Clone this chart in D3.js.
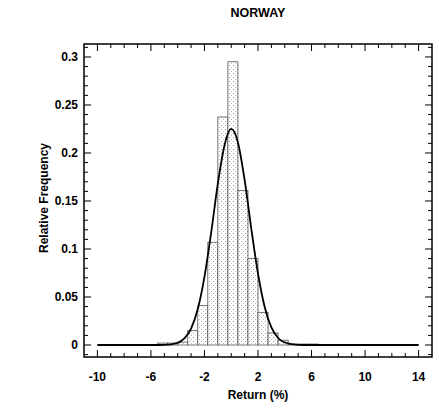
<!DOCTYPE html>
<html>
<head>
<meta charset="utf-8">
<script src="https://cdn.jsdelivr.net/npm/d3@7"></script>
<style>
  body { margin: 0; background: #fff; }
  text { font-family: "Liberation Sans", Arial, sans-serif; font-weight: bold; fill: #000; }
</style>
</head>
<body>
<script>
// histogram bins (left edge, width 0.75) and relative frequencies
const binStarts = [-5.5, -4.75, -4.0, -3.25, -2.5, -1.75, -1.0, -0.25, 0.5, 1.25, 2.0, 2.75, 3.5, 4.25, 5.0, 5.75];
const binFreq   = [0.002, 0.002, 0.003, 0.015, 0.041, 0.107, 0.2375, 0.295, 0.161, 0.09, 0.034, 0.0125, 0.005, 0.001, 0.001, 0.001];
const binWidth = 0.75;

// fitted normal curve
const curveX = [-10, -6, -5, -4, -3.5, -3, -2.5, -2, -1.5, -1, -0.5, 0, 0.5, 1, 1.5, 2, 2.5, 3, 3.5, 4, 5, 6, 14];
const curveY = [0, 0, 0.0002, 0.0023, 0.0068, 0.0171, 0.0374, 0.071, 0.117, 0.168, 0.208, 0.225, 0.211, 0.172, 0.121, 0.0743, 0.0396, 0.0183, 0.0073, 0.0026, 0.0002, 0, 0];

const xTicks = [-10, -6, -2, 2, 6, 10, 14];
const yTicks = [0, 0.05, 0.1, 0.15, 0.2, 0.25, 0.3];

const width = 439, height = 414;
const frame = {left: 84, right: 432, top: 44, bottom: 357};

const svg = d3.select("body").append("svg")
    .attr("width", width)
    .attr("height", height);

const defs = svg.append("defs");
const pat = defs.append("pattern")
    .attr("id", "stipple")
    .attr("patternUnits", "userSpaceOnUse")
    .attr("width", 4).attr("height", 4);
pat.append("rect").attr("width", 4).attr("height", 4).attr("fill", "#fff");
pat.append("rect").attr("x", 1).attr("y", 1).attr("width", 1).attr("height", 1).attr("fill", "#999");
pat.append("rect").attr("x", 3).attr("y", 3).attr("width", 1).attr("height", 1).attr("fill", "#bbb");

const xscale = d3.scaleLinear().domain([-11, 15]).range([frame.left, frame.right]);
const yscale = d3.scaleLinear().domain([-0.0125, 0.3135]).range([frame.bottom, frame.top]);

// bars
svg.selectAll("rect.bar")
    .data(binStarts.map((s, i) => ({x0: s, f: binFreq[i]})))
    .enter()
    .append("rect")
    .attr("class", "bar")
    .attr("x", d => xscale(d.x0))
    .attr("y", d => yscale(d.f))
    .attr("width", d => xscale(d.x0 + binWidth) - xscale(d.x0))
    .attr("height", d => yscale(0) - yscale(d.f))
    .attr("fill", "url(#stipple)")
    .attr("stroke", "#555")
    .attr("stroke-width", 0.8);

// fitted curve
const line = d3.line()
    .x(d => xscale(d[0]))
    .y(d => yscale(d[1]))
    .curve(d3.curveMonotoneX);

svg.append("path")
    .datum(curveX.map((x, i) => [x, curveY[i]]))
    .attr("d", line)
    .attr("fill", "none")
    .attr("stroke", "#000")
    .attr("stroke-width", 1.8);

// frame
svg.append("rect")
    .attr("x", frame.left).attr("y", frame.top)
    .attr("width", frame.right - frame.left).attr("height", frame.bottom - frame.top)
    .attr("fill", "none")
    .attr("stroke", "#000")
    .attr("stroke-width", 1.5);

// ticks on all four sides
const xMinor = d3.range(-10, 14.01, 1);
const yMinor = d3.range(-0.01, 0.3101, 0.01);

const tickG = svg.append("g").attr("stroke", "#000").attr("stroke-width", 1);
xMinor.forEach(v => {
    const major = xTicks.some(t => Math.abs(t - v) < 1e-6);
    const len = major ? 7 : 4;
    const x = xscale(v);
    tickG.append("line").attr("x1", x).attr("x2", x).attr("y1", frame.bottom).attr("y2", frame.bottom - len);
    tickG.append("line").attr("x1", x).attr("x2", x).attr("y1", frame.top).attr("y2", frame.top + len);
});
yMinor.forEach(v => {
    const major = yTicks.some(t => Math.abs(t - v) < 1e-6);
    const len = major ? 7 : 4;
    const y = yscale(v);
    tickG.append("line").attr("x1", frame.left).attr("x2", frame.left + len).attr("y1", y).attr("y2", y);
    tickG.append("line").attr("x1", frame.right).attr("x2", frame.right - len).attr("y1", y).attr("y2", y);
});

// tick labels
svg.selectAll("text.xt")
    .data(xTicks)
    .enter()
    .append("text")
    .attr("class", "xt")
    .attr("x", d => xscale(d))
    .attr("y", 381)
    .attr("text-anchor", "middle")
    .attr("font-size", 12)
    .text(d => d);

svg.selectAll("text.yt")
    .data(yTicks)
    .enter()
    .append("text")
    .attr("class", "yt")
    .attr("x", 78)
    .attr("y", d => yscale(d) + 4)
    .attr("text-anchor", "end")
    .attr("font-size", 12)
    .text(d => d);

// titles
svg.append("text")
    .attr("x", 258).attr("y", 17)
    .attr("text-anchor", "middle")
    .attr("font-size", 12.5)
    .text("NORWAY");

svg.append("text")
    .attr("x", 258).attr("y", 399)
    .attr("text-anchor", "middle")
    .attr("font-size", 12)
    .text("Return (%)");

svg.append("text")
    .attr("transform", "translate(48,198) rotate(-90)")
    .attr("text-anchor", "middle")
    .attr("font-size", 12)
    .text("Relative Frequency");
</script>
</body>
</html>
